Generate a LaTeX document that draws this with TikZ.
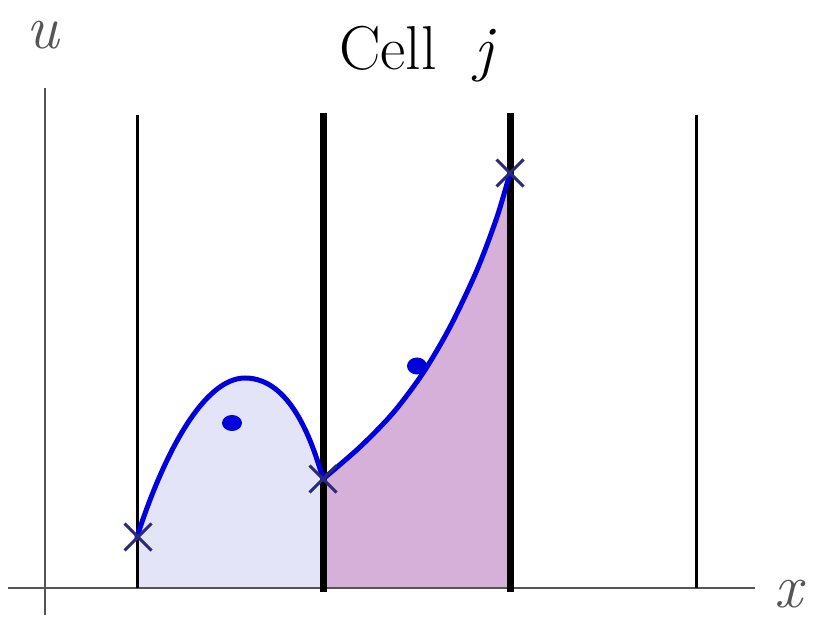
\documentclass[tikz,border=0pt]{standalone}
\usepackage{fontspec}
\usetikzlibrary{shapes.misc}
\definecolor{axisgray}{HTML}{555555}
\definecolor{curveblue}{HTML}{0000DD}
\definecolor{crossnavy}{HTML}{2A2A7A}
\definecolor{leftfill}{HTML}{E4E4F8}
\definecolor{rightfill}{HTML}{D6B0D8}
\tikzset{
  crossmark/.style={cross out, draw=crossnavy, line width=3pt, minimum size=24pt, inner sep=0pt},
  biglabel/.style={inner sep=0pt, anchor=base west, font=\fontsize{62}{62}\selectfont},
  cellwall/.style={line width=3pt},
  cellface/.style={line width=7pt},
}
\begin{document}
\begin{tikzpicture}[x=1pt,y=-1pt]
    \useasboundingbox (0,0) rectangle (817,617);
    % shaded cells
    \fill [leftfill] (137,588) -- (137,537) .. controls (165,450) and (205,378) .. (245,378)
        .. controls (290,378) and (312,440) .. (323,479) -- (323,588) -- cycle;
    \fill [rightfill] (323,588) -- plot[smooth] coordinates {(323,479) (360,447) (393,413) (423,373) (450,327) (477,270) (497,217) (510,173)} -- (510,588) -- cycle;
    % axes
    \draw [axisgray, line width=2pt] (8,588) -- (755,588);
    \draw [axisgray, line width=2pt] (45,88) -- (45,615);
    \node [biglabel, text=axisgray] (u) at (26,49) {\textit{u}};
    \node [biglabel, text=axisgray] (x) at (774,607) {\textit{x}};
    % cell boundaries
    \draw [cellwall] (137,115) -- (137,588);
    \draw [cellface] (323,113) -- (323,592);
    \draw [cellface] (510,113) -- (510,592);
    \draw [cellwall] (696,115) -- (696,588);
    \node [biglabel] (cell) at (339,70) {Cell};
    \node [biglabel] (j) at (474,70) {\textit{j}};
    % reconstruction
    \draw [curveblue, line width=5pt, line cap=round] (137,537) .. controls (165,450) and (205,378) .. (245,378)
        .. controls (290,378) and (312,440) .. (323,479);
    \draw [curveblue, line width=5pt, line cap=round] plot[smooth] coordinates {(323,479) (360,447) (393,413) (423,373) (450,327) (477,270) (497,217) (510,173)};
    \node [crossmark] (xl) at (138,537) {};
    \node [crossmark] (xm) at (323,479) {};
    \node [crossmark] (xr) at (510,173) {};
    % cell averages
    \fill [curveblue] (232,423) ellipse (10 and 8);
    \fill [curveblue] (417,366) ellipse (10 and 8.5);
\end{tikzpicture}
\end{document}
